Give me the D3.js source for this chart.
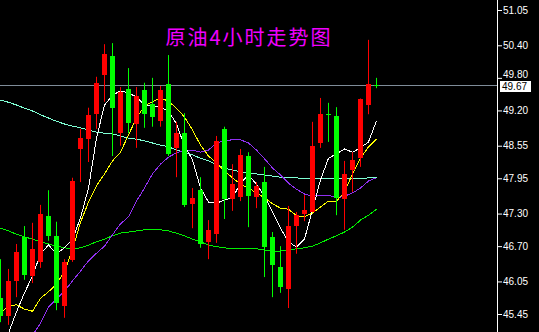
<!DOCTYPE html>
<html>
<head>
<meta charset="utf-8">
<script src="https://cdn.jsdelivr.net/npm/d3@7"></script>
<style>
  html, body { margin: 0; padding: 0; background: #000; }
  svg { display: block; }
</style>
</head>
<body>
<div id="chart"></div>
<script>
// candle data, one entry per 4h bar
var open  = [45.75,45.41,46.06,46.87,46.15,46.41,47.26,46.89,45.60,46.45,48.49,48.67,49.13,49.85,50.20,48.78,49.60,48.95,49.58,49.32,49.01,49.69,48.51,48.78,47.48,47.73,46.78,46.92,48.86,47.57,47.61,48.36,47.61,47.88,46.87,46.32,45.91,47.07,47.29,47.33,48.60,49.13,49.10,47.57,48.10,48.32,49.30,49.67];
var high  = [46.46,46.28,46.74,47.07,47.13,47.46,47.73,47.15,46.46,47.96,48.86,49.25,49.82,50.42,50.44,49.63,49.98,49.63,49.71,49.80,49.65,50.22,48.99,49.15,47.77,47.97,47.18,48.73,48.90,48.21,48.49,48.43,47.88,48.16,46.96,46.70,47.44,47.33,47.64,48.99,49.43,49.34,49.26,48.27,48.43,49.42,50.50,49.80];
var low   = [45.30,45.25,45.76,46.08,46.02,46.30,46.80,45.52,45.38,46.41,47.88,48.25,48.86,49.36,48.36,48.55,48.78,48.51,48.88,48.90,48.90,48.36,47.97,47.42,47.03,46.67,46.46,46.76,47.20,47.35,47.53,47.05,47.40,46.13,45.76,45.84,45.56,46.56,47.16,47.33,48.51,48.62,47.27,47.00,47.70,48.16,49.13,49.61];
var close = [45.41,46.06,46.59,46.17,46.65,47.29,46.89,45.65,46.41,47.90,48.69,49.12,49.71,50.24,49.25,49.54,48.97,49.47,49.13,49.08,49.58,48.40,48.78,47.46,47.59,46.74,47.00,48.64,47.57,47.85,48.38,47.62,47.81,46.68,46.35,45.95,47.07,47.27,47.37,48.55,49.13,49.12,47.59,48.03,48.29,49.41,49.68,49.67];

// moving averages
var maWhite  = [44.66,45.10,45.49,45.84,46.15,46.56,46.72,46.56,46.67,46.83,47.22,47.77,48.69,49.30,49.48,49.56,49.52,49.45,49.30,49.28,49.26,49.19,48.95,48.54,48.29,47.77,47.51,47.49,47.55,47.59,47.86,48.01,47.84,47.62,47.33,47.03,46.78,46.68,46.83,47.37,47.92,48.32,48.40,48.49,48.43,48.51,48.62,49.01];
var maYellow = [45.47,45.60,45.62,45.54,45.50,45.74,45.86,46.00,46.24,46.63,47.14,47.51,47.81,48.03,48.27,48.43,48.75,49.06,49.28,49.36,49.43,49.37,49.24,49.08,48.84,48.56,48.36,48.23,48.08,47.96,47.84,47.77,47.68,47.59,47.48,47.40,47.38,47.26,47.24,47.31,47.42,47.53,47.53,47.70,48.03,48.32,48.53,48.67];
var maPurple = [44.33,44.51,44.70,44.88,45.06,45.28,45.58,45.73,45.87,46.06,46.24,46.43,46.57,46.70,46.91,47.11,47.24,47.53,47.77,48.03,48.21,48.34,48.42,48.47,48.47,48.43,48.47,48.60,48.64,48.66,48.66,48.60,48.47,48.31,48.14,48.01,47.86,47.75,47.66,47.62,47.64,47.64,47.59,47.62,47.68,47.77,47.90,47.96];
var maCyan   = [49.39,49.35,49.30,49.24,49.19,49.12,49.06,49.00,48.95,48.91,48.88,48.84,48.80,48.78,48.77,48.73,48.69,48.67,48.64,48.60,48.56,48.53,48.47,48.43,48.38,48.32,48.27,48.20,48.14,48.10,48.07,48.05,48.03,48.01,47.99,47.97,47.96,47.96,47.94,47.94,47.94,47.94,47.94,47.94,47.94,47.94,47.96,47.96];
var maGreen  = [47.03,46.98,46.92,46.87,46.83,46.78,46.74,46.70,46.67,46.65,46.67,46.72,46.78,46.83,46.89,46.94,46.96,46.98,47.00,47.00,47.00,46.98,46.94,46.89,46.83,46.78,46.72,46.69,46.67,46.65,46.65,46.65,46.65,46.63,46.61,46.61,46.63,46.65,46.67,46.70,46.76,46.83,46.89,46.96,47.05,47.18,47.27,47.38];

var priceTicks = [51.05, 50.40, 49.80, 49.20, 48.55, 47.95, 47.30, 46.70, 46.05, 45.45];
var lastPrice = 49.67;
var title = "原油4小时走势图";

var width = 539, height = 332, plotRight = 498;

var svg = d3.select("#chart").append("svg")
    .attr("width", width)
    .attr("height", height)
    .style("background", "#000");

var x = d3.scaleLinear().domain([0, 62]).range([0.5, 496.5]);
var y = d3.scaleLinear().domain([45.45, 51.05]).range([314, 10]);

svg.append("clipPath").attr("id", "plot")
  .append("rect").attr("x", 0).attr("y", 0).attr("width", plotRight).attr("height", height);

var plot = svg.append("g").attr("clip-path", "url(#plot)");

// title
plot.append("text")
    .attr("x", 249).attr("y", 45)
    .attr("text-anchor", "middle")
    .style("font-family", "'Noto Sans CJK SC', sans-serif")
    .style("font-size", "20px")
    .style("letter-spacing", "2px")
    .attr("fill", "#f000ff")
    .text(title);

// current price line
var py = Math.round(y(lastPrice));
plot.append("line")
    .attr("x1", 0).attr("x2", plotRight)
    .attr("y1", py + 0.5).attr("y2", py + 0.5)
    .attr("stroke", "#7f8c99").attr("stroke-width", 1);

// moving average lines
var idx = d3.range(open.length);
function maLine(vals, color) {
    var line = d3.line()
        .x(function(i) { return x(i); })
        .y(function(i) { return y(vals[i]); });
    plot.append("path")
        .datum(idx)
        .attr("d", line)
        .attr("fill", "none")
        .attr("stroke", color)
        .attr("stroke-width", 1)
        .attr("shape-rendering", "crispEdges");
}
maLine(maGreen, "#00f000");
maLine(maCyan, "#7fffd4");
maLine(maPurple, "#9030f0");
maLine(maYellow, "#ffff00");
maLine(maWhite, "#ffffff");

// candles
function col(i) { return close[i] > open[i] ? "#ff0000" : "#00ff00"; }

plot.selectAll(".wick").data(idx).enter().append("line")
    .attr("class", "wick")
    .attr("x1", function(i) { return x(i); })
    .attr("x2", function(i) { return x(i); })
    .attr("y1", function(i) { return y(high[i]); })
    .attr("y2", function(i) { return y(low[i]); })
    .attr("stroke", col)
    .attr("stroke-width", 1);

plot.selectAll(".body").data(idx).enter().append("rect")
    .attr("class", "body")
    .attr("x", function(i) { return x(i) - 2.5; })
    .attr("width", 5)
    .attr("y", function(i) { return Math.round(y(Math.max(open[i], close[i]))); })
    .attr("height", function(i) {
        return Math.max(1, Math.round(Math.abs(y(open[i]) - y(close[i]))));
    })
    .attr("fill", col)
    .attr("shape-rendering", "crispEdges");

// right price axis
svg.append("line")
    .attr("x1", plotRight - 0.5).attr("x2", plotRight - 0.5)
    .attr("y1", 0).attr("y2", height)
    .attr("stroke", "#fff");

var axis = svg.append("g")
    .attr("transform", "translate(" + plotRight + ",0)")
    .call(d3.axisRight(y).tickValues(priceTicks).tickSize(4).tickPadding(1)
        .tickFormat(d3.format(".2f")));
axis.select(".domain").remove();
axis.selectAll("line").attr("stroke", "#fff");
axis.selectAll("text")
    .attr("fill", "#fff")
    .style("font-family", "'Liberation Sans', Arial, sans-serif")
    .style("font-size", "10px");
// keep the 49.80 label clear of the price tag
axis.selectAll(".tick").filter(function(d) { return d === 49.80; })
    .select("text").attr("dy", "-0.05em");

// last price tag
svg.append("rect")
    .attr("x", plotRight + 2).attr("y", py - 4)
    .attr("width", 31).attr("height", 11)
    .attr("fill", "#fff");
svg.append("text")
    .attr("x", plotRight + 4).attr("y", py + 5)
    .style("font-family", "'Liberation Sans', Arial, sans-serif")
    .style("font-size", "10px")
    .attr("fill", "#000")
    .text(lastPrice.toFixed(2));
</script>
</body>
</html>
